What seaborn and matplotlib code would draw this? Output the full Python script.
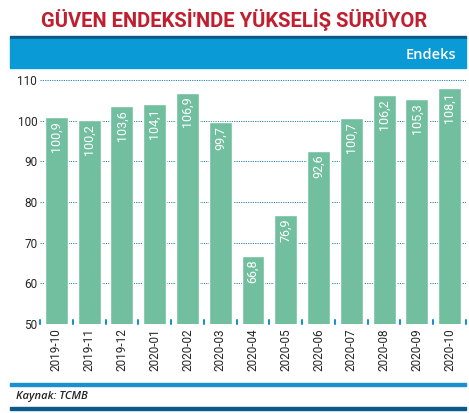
import matplotlib
matplotlib.use("Agg")
import matplotlib.pyplot as plt
import pandas as pd
import seaborn as sns

months = ["2019-10", "2019-11", "2019-12", "2020-01", "2020-02", "2020-03", "2020-04",
          "2020-05", "2020-06", "2020-07", "2020-08", "2020-09", "2020-10"]
values = [100.9, 100.2, 103.6, 104.1, 106.9, 99.7, 66.8, 76.9, 92.6, 100.7, 106.2, 105.3, 108.1]
yticks = [50, 60, 70, 80, 90, 100, 110]

BAR = "#72bfa0"
BLUE = "#0a9ad6"
DARK = "#0b5a8a"
NARROW = ["Roboto", "DejaVu Sans"]

sns.set_style("white")
plt.rcParams["font.family"] = ["Open Sans", "DejaVu Sans"]

fig = plt.figure(figsize=(4.69, 4.13), dpi=100)
W, H = 469, 413

def fx(px):
    return px / W

def fy(py):
    return 1 - py / H

fig.text(0.5, fy(20), "GÜVEN ENDEKSİ'NDE YÜKSELİŞ SÜRÜYOR", ha="center", va="center",
         color="#c01f2f", fontsize=14.5, fontweight="bold", family=NARROW)
fig.add_artist(plt.Rectangle((fx(10), fy(39)), fx(456), 3 / H, color=DARK, transform=fig.transFigure))
fig.add_artist(plt.Rectangle((fx(10), fy(68)), fx(456), 29 / H, color=BLUE, transform=fig.transFigure))
fig.text(fx(456), fy(55), "Endeks", ha="right", va="center", color="white", fontsize=10.5, fontweight="semibold")

fig.add_artist(plt.Rectangle((fx(10), fy(386)), fx(456), 3 / H, color="#1b8fd0", transform=fig.transFigure))
fig.text(fx(16), fy(396), "Kaynak: TCMB", ha="left", va="center", fontsize=8, style="italic", fontweight="semibold")
fig.add_artist(plt.Rectangle((fx(10), fy(410)), fx(456), 3 / H, color=DARK, transform=fig.transFigure))

ax = fig.add_axes([fx(40), fy(324), fx(426), (324 - 80) / H])
df = pd.DataFrame({"month": months, "value": values})
sns.barplot(data=df, x="month", y="value", color=BAR, saturation=1, width=0.7, ax=ax, zorder=2)
ax.set_ylim(50, 110)
ax.set_xlim(-0.5, len(months) - 0.5)
ax.set_yticks(yticks)
ax.set_yticklabels([str(t) for t in yticks], fontsize=8.5, family=NARROW)
for t in yticks:
    ax.axhline(t, color="#2a7fb0", lw=0.7, ls=(0, (1.2, 1.2)), zorder=1)
for i in range(len(months) + 1):
    ax.plot([i - 0.5, i - 0.5], [50, 51], color="#1a8fd0", lw=1.5, zorder=3, clip_on=False)
ax.tick_params(axis="x", rotation=90, labelsize=8.5, length=0, pad=3)
ax.tick_params(axis="y", length=0, pad=2)
for lab in ax.get_xticklabels():
    lab.set_family(NARROW)
ax.set_xlabel("")
ax.set_ylabel("")
for s in ax.spines.values():
    s.set_visible(False)
for i, v in enumerate(values):
    ax.text(i, v - 1, f"{v:.1f}".replace(".", ","), rotation=90, ha="center", va="top",
            color="white", fontsize=9, family=NARROW)

fig.savefig("out.png", dpi=100)
